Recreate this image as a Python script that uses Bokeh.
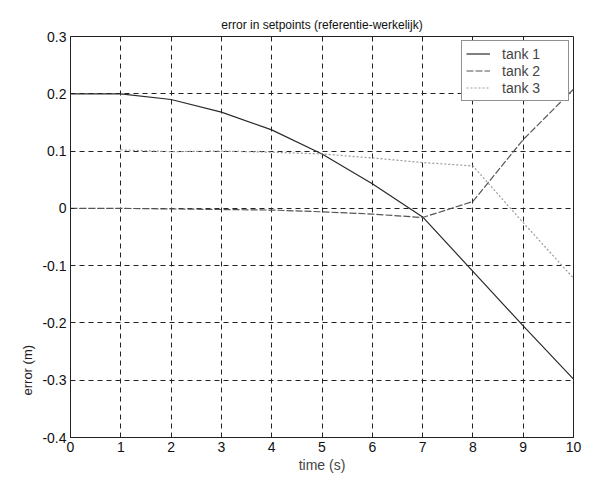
from bokeh.plotting import figure
from bokeh.models import Range1d, FixedTicker, Legend, LegendItem, Title
from bokeh.embed import file_html
from bokeh.resources import INLINE

# --- data ---
t1 = [0, 1, 2, 3, 4, 5, 6, 7, 8, 9, 10]
tank1 = [0.200, 0.200, 0.190, 0.168, 0.137, 0.095, 0.043, -0.015, -0.110, -0.205, -0.298]
t2 = [0, 1, 2, 3, 4, 5, 6, 7, 8, 9, 10]
tank2 = [0.000, 0.000, -0.001, -0.002, -0.003, -0.006, -0.010, -0.016, 0.012, 0.120, 0.208]
t3 = [1, 2, 3, 4, 5, 6, 7, 8, 9, 10]
tank3 = [0.102, 0.099, 0.100, 0.098, 0.095, 0.088, 0.080, 0.074, -0.025, -0.122]
series_names = ["tank 1", "tank 2", "tank 3"]
x_ticks = [0, 1, 2, 3, 4, 5, 6, 7, 8, 9, 10]
y_ticks = [-0.4, -0.3, -0.2, -0.1, 0, 0.1, 0.2, 0.3]
y_tick_labels = ["-0.4", "-0.3", "-0.2", "-0.1", "0", "0.1", "0.2", "0.3"]

FONT = "Liberation Sans"

p = figure(width=593, height=481, output_backend="svg", toolbar_location=None,
           x_range=Range1d(0, 10), y_range=Range1d(-0.4, 0.3),
           title="error in setpoints (referentie-werkelijk)",
           min_border_left=70, min_border_right=20, min_border_top=36, min_border_bottom=44)

p.title.align = "center"
p.title.text_font = FONT
p.title.text_font_size = "12px"
p.title.text_font_style = "normal"
p.title.text_color = "#111111"

p.outline_line_color = "#222222"
p.outline_line_width = 1
p.background_fill_color = "white"
p.border_fill_color = "white"

for ax in (p.xaxis, p.yaxis):
    ax.major_label_text_font = FONT
    ax.major_label_text_font_size = "14px"
    ax.major_label_text_color = "#111111"
    ax.axis_line_color = "#222222"
    ax.major_tick_in = 4
    ax.major_tick_out = 0
    ax.minor_tick_line_color = None
    ax.major_tick_line_color = "#222222"

p.xaxis.ticker = FixedTicker(ticks=x_ticks)
p.yaxis.ticker = FixedTicker(ticks=y_ticks)
p.yaxis.major_label_overrides = {v: s for v, s in zip(y_ticks, y_tick_labels)}
p.xaxis.major_label_standoff = 4
p.yaxis.major_label_standoff = 4

p.xaxis.axis_label = "time (s)"
p.xaxis.axis_label_text_font = FONT
p.xaxis.axis_label_text_font_size = "14px"
p.xaxis.axis_label_text_font_style = "normal"
p.xaxis.axis_label_standoff = 2

for g in (p.xgrid, p.ygrid):
    g.grid_line_color = "#222222"
    g.grid_line_dash = "5 4"
    g.grid_line_width = 1

r1 = p.line(t1, tank1, line_color="#2a2a2a", line_width=1.2)
r2 = p.line(t2, tank2, line_color="#555555", line_width=1.2, line_dash="7 2")
r3 = p.line(t3, tank3, line_color="#9a9a9a", line_width=1.2, line_dash="2 2")

legend = Legend(items=[LegendItem(label=series_names[0], renderers=[r1]),
                       LegendItem(label=series_names[1], renderers=[r2]),
                       LegendItem(label=series_names[2], renderers=[r3])],
                location="top_right")
legend.label_text_font = FONT
legend.label_text_font_size = "14px"
legend.border_line_color = "#222222"
legend.border_line_width = 1
legend.background_fill_alpha = 1
legend.glyph_width = 24
legend.glyph_height = 17
legend.label_height = 17
legend.label_width = 62
legend.spacing = 0
legend.padding = 4
legend.margin = 4
legend.label_standoff = 12
p.add_layout(legend)

ylab = Title(text="error (m)", align="left", offset=42,
             text_font=FONT, text_font_size="13px", text_font_style="normal",
             text_color="#222222")
p.add_layout(ylab, "left")

open("out.html", "w").write(file_html(p, INLINE))
